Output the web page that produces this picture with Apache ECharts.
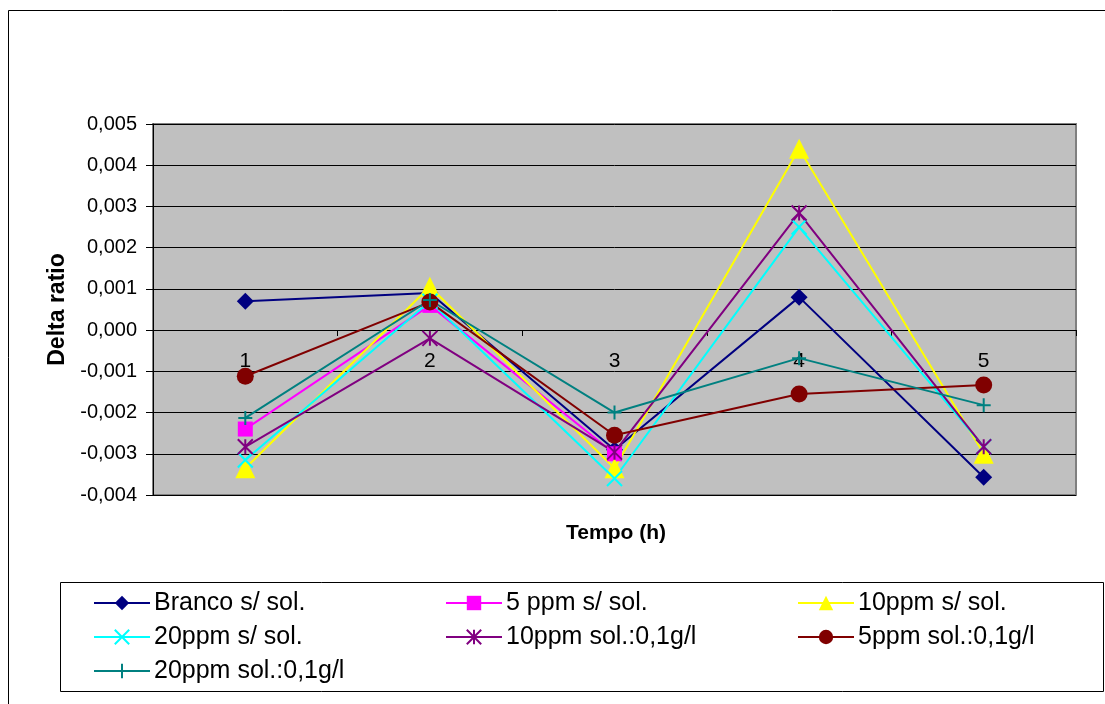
<!DOCTYPE html>
<html>
<head>
<meta charset="utf-8">
<script src="https://cdn.jsdelivr.net/npm/echarts@6/dist/echarts.min.js"></script>
<style>
  html, body { margin: 0; padding: 0; background: #fff; }
  #chart { width: 1105px; height: 704px; }
</style>
</head>
<body>
<div id="chart"></div>
<script>
// dados
var categorias = ['1', '2', '3', '4', '5'];
var brancoSemSol = [0.0007, 0.0009, -0.0029, 0.0008, -0.00357];
var ppm5SemSol = [-0.0024, 0.0006, -0.003, null, null];
var ppm10SemSol = [-0.00335, 0.00105, -0.00335, 0.0044, -0.003];
var ppm20SemSol = [-0.00315, 0.0007, -0.0036, 0.0025, -0.00283];
var ppm10Sol = [-0.00283, -0.0002, -0.00296, 0.00284, -0.00283];
var ppm5Sol = [-0.00112, 0.00068, -0.00255, -0.00155, -0.00133];
var ppm20Sol = [-0.00213, 0.00073, -0.002, -0.00068, -0.00182];

var nomes = ['Branco s/ sol.', '5 ppm s/ sol.', '10ppm s/ sol.', '20ppm s/ sol.',
             '10ppm sol.:0,1g/l', '5ppm sol.:0,1g/l', '20ppm sol.:0,1g/l'];

var crossPath = 'path://M0,0L10,10M10,0L0,10';
var starPath = 'path://M0,0L10,10M10,0L0,10M5,0L5,10';
var plusPath = 'path://M5,0L5,10M0,5L10,5';

function serie(nome, dados, cor, simbolo, tamanho, traco) {
    return {
        name: nome,
        type: 'line',
        data: dados,
        xAxisIndex: 0,
        yAxisIndex: 0,
        symbol: simbolo,
        symbolSize: tamanho,
        showAllSymbol: true,
        connectNulls: false,
        lineStyle: {color: cor, width: 2},
        itemStyle: traco
            ? {color: 'none', borderColor: cor, borderWidth: 2}
            : {color: cor, borderColor: cor, borderWidth: 0},
        emphasis: {disabled: true},
        animation: false
    };
}

var myChart = echarts.init(document.getElementById('chart'));

var fonte = 'Liberation Sans, Arial, sans-serif';
var legendaBase = {
    orient: 'vertical',
    top: 590,
    padding: 0,
    itemWidth: 56,
    itemHeight: 18,
    itemGap: 8,
    textStyle: {fontFamily: fonte, fontSize: 25, lineHeight: 26, color: '#000', padding: [0, 0, 0, -1]},
    selectedMode: false
};

option = {
    backgroundColor: '#fff',
    animation: false,
    graphic: [
        {type: 'rect', shape: {x: 8.5, y: 10.5, width: 1120, height: 720},
         style: {fill: 'none', stroke: '#000', lineWidth: 1}, silent: true},
        {type: 'rect', shape: {x: 60.5, y: 582.5, width: 1043, height: 109},
         style: {fill: '#fff', stroke: '#000', lineWidth: 1}, silent: true, z: -1},
        {type: 'text', x: 616, y: 533,
         style: {text: 'Tempo (h)', font: 'bold 21px ' + fonte, fill: '#000',
                 textAlign: 'center', textVerticalAlign: 'middle'}}
    ],
    legend: [
        Object.assign({}, legendaBase, {left: 93, data: [nomes[0], nomes[3], nomes[6]]}),
        Object.assign({}, legendaBase, {left: 445, data: [nomes[1], nomes[4]]}),
        Object.assign({}, legendaBase, {left: 797, data: [nomes[2], nomes[5]]})
    ],
    grid: [
        {
            left: 153, top: 124, width: 923, height: 371,
            containLabel: false,
            show: true,
            backgroundColor: '#C0C0C0',
            borderColor: '#808080',
            borderWidth: 2
        },
        // grade auxiliar só para o eixo das categorias na linha do zero
        {left: 153, top: 124, width: 923, height: 206, containLabel: false, show: false}
    ],
    xAxis: [
        {
            type: 'category',
            gridIndex: 0,
            data: categorias,
            boundaryGap: true,
            axisLine: {show: false},
            axisTick: {show: false},
            axisLabel: {show: false},
            splitLine: {show: false}
        },
        {
            type: 'category',
            gridIndex: 1,
            data: categorias,
            boundaryGap: true,
            position: 'bottom',
            axisLine: {show: true, onZero: false, lineStyle: {color: '#000', width: 1}},
            axisTick: {show: true, inside: false, length: 6, lineStyle: {color: '#000'}},
            axisLabel: {fontFamily: fonte, fontSize: 21, color: '#000', margin: 21},
            splitLine: {show: false}
        }
    ],
    yAxis: [
        {
            type: 'value',
            gridIndex: 0,
            min: -0.004,
            max: 0.005,
            interval: 0.001,
            name: 'Delta ratio',
            nameLocation: 'middle',
            nameGap: 83,
            nameRotate: 90,
            nameTextStyle: {fontFamily: fonte, fontSize: 23, fontWeight: 'bold', color: '#000'},
            axisLine: {show: true, lineStyle: {color: '#000'}},
            axisTick: {show: true, inside: false, length: 7, lineStyle: {color: '#000'}},
            axisLabel: {
                fontFamily: fonte, fontSize: 20, color: '#000', margin: 16,
                formatter: function (v) { return v.toFixed(3).replace('.', ','); }
            },
            splitLine: {show: true, lineStyle: {color: '#000', width: 1}}
        },
        {
            type: 'value',
            gridIndex: 1,
            min: 0,
            max: 1,
            show: false
        }
    ],
    series: [
        serie(nomes[0], brancoSemSol, '#000080', 'diamond', 17, false),
        serie(nomes[1], ppm5SemSol, '#FF00FF', 'rect', 15, false),
        serie(nomes[2], ppm10SemSol, '#FFFF00', 'triangle', 20, false),
        serie(nomes[3], ppm20SemSol, '#00FFFF', crossPath, 15, true),
        serie(nomes[4], ppm10Sol, '#800080', starPath, 15, true),
        serie(nomes[5], ppm5Sol, '#800000', 'circle', 17, false),
        serie(nomes[6], ppm20Sol, '#008080', plusPath, 14, true)
    ]
};

myChart.setOption(option);
</script>
</body>
</html>
